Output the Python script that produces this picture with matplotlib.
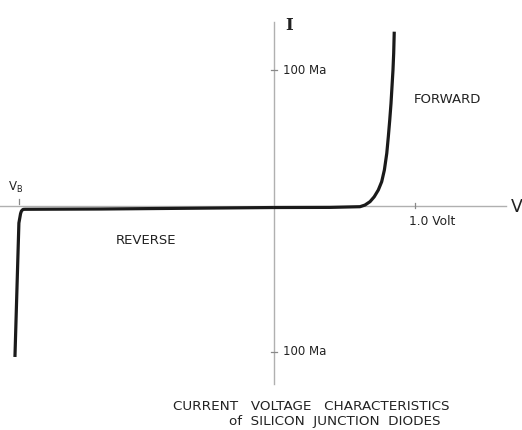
import matplotlib
matplotlib.use("Agg")
import matplotlib.pyplot as plt

# Forward characteristic (volts, mA)
fwd_v = [0.0, 0.397, 0.610, 0.645, 0.681, 0.711, 0.740, 0.764, 0.783,
         0.800, 0.811, 0.821, 0.830, 0.837, 0.844, 0.849, 0.853]
fwd_i = [-1.1, -1.0, -0.5, 0.7, 3.2, 6.8, 11.8, 17.9, 26.5,
         38.8, 51.0, 63.2, 75.5, 87.7, 100.0, 112.3, 128.2]

# Reverse characteristic (volts, mA)
rev_v = [0.0, -1.234, -1.766, -1.780, -1.791, -1.797, -1.809, -1.837]
rev_i = [-1.1, -2.2, -2.4, -2.5, -3.7, -5.5, -12.5, -111.0]

# Tick marks
y_ticks = [100, -107]
y_tick_labels = ["100 Ma", "100 Ma"]
x_tick = 1.0
x_tick_label = "1.0 Volt"
vb = -1.809

fig = plt.figure(figsize=(5.22, 4.30), dpi=100)
ax = fig.add_axes([0, 0, 1, 1])
ax.set_xlim(-1.943, 1.759)
ax.set_ylim(-164.7, 151.5)
ax.axis("off")

axis_col = "#b0b0b0"
ink = "#222222"
# axes lines
ax.plot([-1.943, 1.645], [0, 0], color=axis_col, lw=1.0, zorder=1)
ax.plot([0, 0], [-131, 135], color=axis_col, lw=1.0, zorder=1)

# y ticks
for yt, lab in zip(y_ticks, y_tick_labels):
    ax.plot([-0.02, 0.02], [yt, yt], color="#888888", lw=0.9)
    ax.text(0.062, yt, lab, fontsize=8.5, va="center", ha="left", color=ink)

# x tick at 1.0 V
ax.plot([x_tick, x_tick], [-1.5, 2.5], color="#888888", lw=0.9)
ax.text(1.125, -11.5, x_tick_label, fontsize=8.8, ha="center", va="center",
        color=ink)

# V_B tick
ax.plot([vb, vb], [1.5, 5.5], color="#888888", lw=0.9)
ax.text(-1.83, 14, r"$\mathregular{V_B}$", fontsize=8.5, ha="center",
        va="center", color=ink)

# curves
ax.plot(fwd_v, fwd_i, color="#1a1a1a", lw=2.3, solid_capstyle="butt",
        solid_joinstyle="round", zorder=3)
ax.plot(rev_v, rev_i, color="#1a1a1a", lw=2.3, solid_capstyle="butt",
        solid_joinstyle="round", zorder=3)

# labels
ax.text(0.105, 133, "I", fontsize=12, family="DejaVu Serif",
        fontweight="bold", ha="center", va="center", color=ink)
ax.text(1.227, 78, "FORWARD", fontsize=9.5, ha="center", va="center",
        color=ink)
ax.text(-0.905, -25, "REVERSE", fontsize=9.5, ha="center", va="center",
        color=ink)
ax.text(1.725, -1, "V", fontsize=12.5, ha="center", va="center",
        color=ink)

ax.text(0.262, -147.3, "CURRENT   VOLTAGE   CHARACTERISTICS", fontsize=9.7,
        ha="center", va="center", color=ink)
ax.text(0.433, -158.3, "of  SILICON  JUNCTION  DIODES", fontsize=9.7,
        ha="center", va="center", color=ink)

fig.savefig("out.png", dpi=100)
